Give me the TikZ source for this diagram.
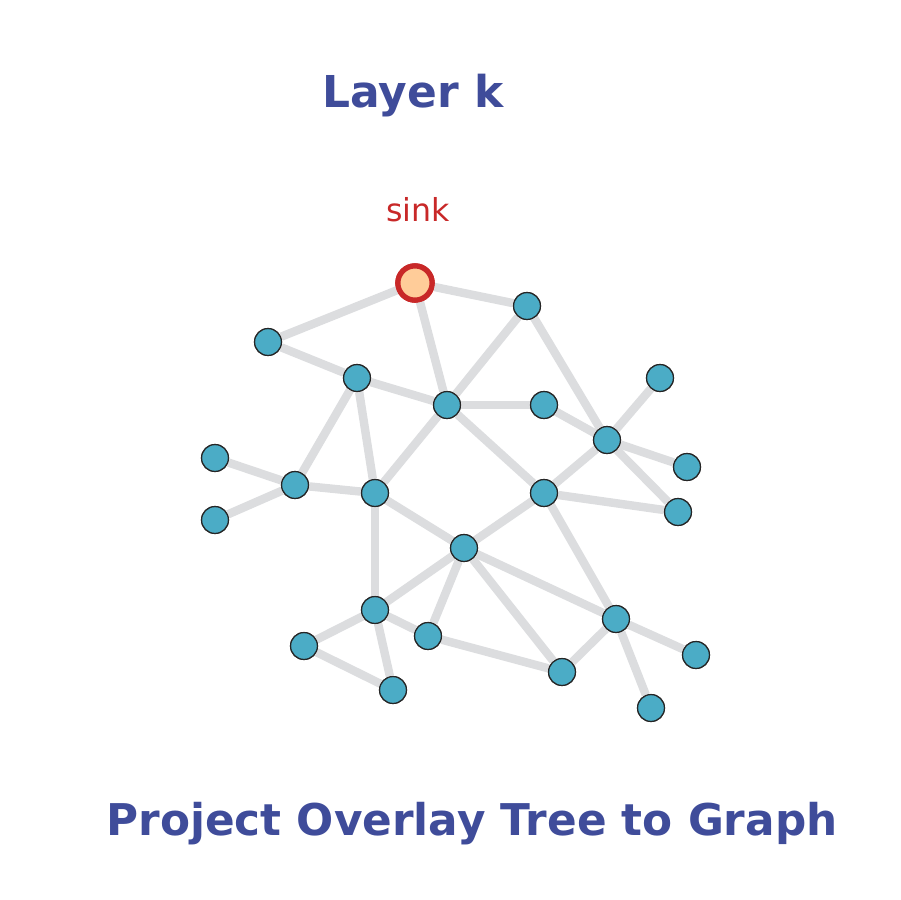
\documentclass[tikz,border=0pt]{standalone}
\usepackage{fontspec}
\setmainfont{DejaVu Sans}
\usepackage{tikz}

\definecolor{titleblue}{RGB}{63,76,154}
\definecolor{sinkred}{RGB}{200,40,40}
\definecolor{sinkfill}{RGB}{255,204,153}
\definecolor{nodeblue}{RGB}{75,172,198}
\definecolor{edgegray}{RGB}{220,221,223}

\begin{document}
\begin{tikzpicture}[x=0.02cm, y=-0.02cm,
    vertex/.style={circle, draw=black!85, line width=0.7pt, fill=nodeblue, minimum size=15.3pt, inner sep=0pt},
    sinknode/.style={circle, draw=sinkred, line width=3pt, fill=sinkfill, minimum size=19.5pt, inner sep=0pt},
    link/.style={edgegray, line width=4.8pt}]
      \useasboundingbox (0, 0) rectangle (900, 900);
      % Titles
      \node[text=titleblue, font=\bfseries\fontsize{25}{30}\selectfont] (layer) at (413, 96) {Layer k};
      \node[text=titleblue, font=\bfseries\fontsize{24.9}{30}\selectfont] (caption) at (472, 824) {Project Overlay Tree to Graph};
      \node[text=sinkred, font=\fontsize{18}{22}\selectfont] (sinklabel) at (418, 210) {sink};
      % - Nodes
      \node[sinknode] (s) at (415, 283) {};
      \node[vertex] (a) at (527, 306) {};
      \node[vertex] (b) at (268, 342) {};
      \node[vertex] (c) at (357, 378) {};
      \node[vertex] (d) at (447, 405) {};
      \node[vertex] (e) at (544, 405) {};
      \node[vertex] (f) at (660, 378) {};
      \node[vertex] (g) at (607, 440) {};
      \node[vertex] (h) at (687, 467) {};
      \node[vertex] (i) at (215, 458) {};
      \node[vertex] (j) at (295, 485) {};
      \node[vertex] (k) at (375, 493) {};
      \node[vertex] (l) at (544, 493) {};
      \node[vertex] (m) at (678, 512) {};
      \node[vertex] (n) at (215, 520) {};
      \node[vertex] (o) at (464, 548) {};
      \node[vertex] (p) at (375, 610) {};
      \node[vertex] (q) at (304, 646) {};
      \node[vertex] (r) at (428, 636) {};
      \node[vertex] (t) at (616, 619) {};
      \node[vertex] (u) at (696, 655) {};
      \node[vertex] (v) at (562, 672) {};
      \node[vertex] (w) at (393, 690) {};
      \node[vertex] (z) at (651, 708) {};
      % - Edges
      \foreach \u/\v in {s/b, s/a, s/d, a/d, a/g, b/c, c/d, c/j, c/k, d/e, d/k, d/l,
                         e/g, f/g, g/h, g/m, g/l, l/m, i/j, n/j, j/k, k/o, k/p,
                         l/o, l/t, o/p, o/r, o/v, o/t, p/q, p/r, p/w, q/w, r/v,
                         t/v, t/u, t/z}
        \draw[link] (\u) -- (\v);
      % - Redraw nodes on top
      \node[sinknode] at (s) {};
      \foreach \x in {a,b,c,d,e,f,g,h,i,j,k,l,m,n,o,p,q,r,t,u,v,w,z}
        \node[vertex] at (\x) {};
\end{tikzpicture}
\end{document}
